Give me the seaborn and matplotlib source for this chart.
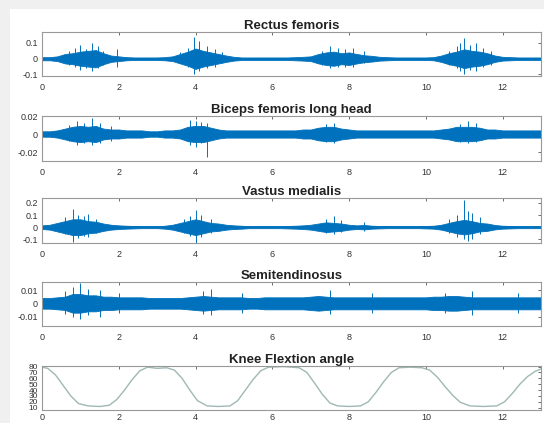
import numpy as np
import pandas as pd
import matplotlib
matplotlib.use("Agg")
import matplotlib.pyplot as plt
from matplotlib.patches import Rectangle
import seaborn as sns

# envelope amplitude of each EMG trace, sampled every 0.2 s from 0 to 13 s
env_t = [round(0.2 * i, 1) for i in range(66)]

rectus = [0.01, 0.01, 0.015, 0.03, 0.035, 0.045, 0.05, 0.055, 0.035, 0.02,
          0.015, 0.01, 0.008, 0.008, 0.008, 0.008, 0.01, 0.015, 0.03, 0.045,
          0.065, 0.05, 0.04, 0.03, 0.02, 0.012, 0.008, 0.008, 0.008, 0.008,
          0.008, 0.008, 0.008, 0.01, 0.012, 0.015, 0.03, 0.04, 0.045, 0.035,
          0.04, 0.03, 0.022, 0.018, 0.012, 0.01, 0.008, 0.008, 0.008, 0.008,
          0.008, 0.01, 0.02, 0.035, 0.045, 0.06, 0.05, 0.045, 0.035, 0.02,
          0.012, 0.01, 0.008, 0.008, 0.008, 0.008]
biceps = [0.003, 0.003, 0.004, 0.006, 0.008, 0.009, 0.008, 0.009, 0.006, 0.005,
          0.005, 0.004, 0.004, 0.004, 0.003, 0.003, 0.004, 0.004, 0.005, 0.008,
          0.009, 0.009, 0.007, 0.005, 0.004, 0.004, 0.004, 0.004, 0.004, 0.004,
          0.004, 0.004, 0.004, 0.004, 0.005, 0.005, 0.007, 0.008, 0.008, 0.006,
          0.005, 0.004, 0.004, 0.004, 0.004, 0.004, 0.004, 0.004, 0.004, 0.004,
          0.004, 0.004, 0.005, 0.006, 0.008, 0.008, 0.008, 0.007, 0.005, 0.005,
          0.004, 0.004, 0.004, 0.004, 0.004, 0.004]
vastus = [0.015, 0.02, 0.035, 0.05, 0.065, 0.065, 0.05, 0.045, 0.03, 0.02,
          0.015, 0.012, 0.01, 0.008, 0.008, 0.008, 0.012, 0.02, 0.035, 0.05,
          0.065, 0.05, 0.035, 0.03, 0.02, 0.015, 0.012, 0.008, 0.008, 0.008,
          0.008, 0.008, 0.01, 0.012, 0.015, 0.02, 0.03, 0.04, 0.035, 0.03,
          0.02, 0.015, 0.018, 0.012, 0.01, 0.008, 0.008, 0.008, 0.008, 0.008,
          0.01, 0.012, 0.02, 0.035, 0.05, 0.06, 0.05, 0.035, 0.03, 0.018,
          0.012, 0.01, 0.008, 0.008, 0.008, 0.008]
semiten = [0.004, 0.004, 0.0045, 0.005, 0.007, 0.007, 0.006, 0.006, 0.005, 0.005,
           0.0045, 0.0045, 0.0045, 0.0045, 0.004, 0.004, 0.004, 0.004, 0.004, 0.0045,
           0.005, 0.0055, 0.005, 0.0045, 0.0045, 0.0045, 0.0045, 0.004, 0.004, 0.0045,
           0.0045, 0.0045, 0.0045, 0.0045, 0.0045, 0.005, 0.0055, 0.005, 0.0045, 0.0045,
           0.0045, 0.0045, 0.0045, 0.0045, 0.0045, 0.0045, 0.0045, 0.0045, 0.0045, 0.0045,
           0.0045, 0.005, 0.005, 0.0055, 0.0055, 0.005, 0.0045, 0.0045, 0.0045, 0.0045,
           0.0045, 0.0045, 0.0045, 0.0045, 0.0045, 0.0045]

# prominent spikes: time, top, bottom
rectus_spk_t = [0.7, 0.85, 1.0, 1.15, 1.3, 1.45, 1.6, 1.95, 3.6, 3.8, 3.95, 4.1,
                4.3, 4.5, 4.7, 7.3, 7.5, 7.7, 7.9, 8.1, 8.4, 10.6, 10.8, 10.9,
                11.0, 11.15, 11.3, 11.5, 11.7]
rectus_spk_hi = [0.05, 0.07, 0.09, 0.06, 0.10, 0.08, 0.05, 0.06, 0.04, 0.07, 0.14, 0.11,
                 0.08, 0.06, 0.04, 0.05, 0.08, 0.07, 0.06, 0.07, 0.05, 0.05, 0.08, 0.10,
                 0.13, 0.09, 0.10, 0.07, 0.05]
rectus_spk_lo = [-0.04, -0.05, -0.07, -0.06, -0.08, -0.06, -0.04, -0.05, -0.03, -0.05,
                 -0.10, -0.08, -0.06, -0.05, -0.03, -0.04, -0.06, -0.05, -0.05, -0.05,
                 -0.03, -0.04, -0.06, -0.08, -0.10, -0.07, -0.08, -0.05, -0.04]
biceps_spk_t = [0.7, 0.9, 1.1, 1.3, 1.5, 1.8, 3.85, 4.0, 4.15, 4.3, 7.4, 7.6,
                10.9, 11.1, 11.3]
biceps_spk_hi = [0.010, 0.014, 0.012, 0.018, 0.012, 0.009, 0.016, 0.014, 0.013, 0.012,
                 0.011, 0.012, 0.011, 0.014, 0.012]
biceps_spk_lo = [-0.008, -0.012, -0.010, -0.012, -0.010, -0.008, -0.012, -0.015, -0.010,
                 -0.026, -0.009, -0.010, -0.009, -0.010, -0.009]
vastus_spk_t = [0.6, 0.8, 0.95, 1.1, 1.2, 1.4, 3.7, 3.85, 4.0, 4.15, 4.4, 7.4, 7.6,
                7.8, 8.4, 10.6, 10.8, 11.0, 11.1, 11.2, 11.4]
vastus_spk_hi = [0.08, 0.15, 0.10, 0.09, 0.11, 0.07, 0.07, 0.09, 0.14, 0.10, 0.07, 0.07,
                 0.09, 0.06, 0.04, 0.07, 0.10, 0.22, 0.13, 0.12, 0.08]
vastus_spk_lo = [-0.06, -0.12, -0.09, -0.07, -0.08, -0.05, -0.05, -0.07, -0.13, -0.08,
                 -0.05, -0.05, -0.06, -0.04, -0.03, -0.05, -0.08, -0.10, -0.11, -0.10,
                 -0.06]
semiten_spk_t = [0.6, 0.8, 1.0, 1.2, 1.5, 2.0, 4.2, 4.4, 5.2, 7.5, 8.6, 10.5, 11.2, 12.4]
semiten_spk_hi = [0.009, 0.012, 0.015, 0.011, 0.010, 0.008, 0.009, 0.011, 0.008, 0.010,
                  0.008, 0.008, 0.009, 0.008]
semiten_spk_lo = [-0.008, -0.010, -0.012, -0.009, -0.010, -0.007, -0.008, -0.009, -0.007,
                  -0.008, -0.007, -0.007, -0.009, -0.007]

# knee flexion angle
knee_t = [0, 0.15, 0.35, 0.55, 0.75, 0.95, 1.2, 1.5, 1.75, 1.95, 2.15, 2.35, 2.55,
          2.75, 3.0, 3.25, 3.45, 3.65, 3.85, 4.05, 4.3, 4.6, 4.9, 5.1, 5.3, 5.5,
          5.7, 5.9, 6.3, 6.7, 6.9, 7.1, 7.3, 7.5, 7.7, 8.0, 8.3, 8.5, 8.7, 8.9,
          9.1, 9.3, 9.6, 9.9, 10.1, 10.3, 10.5, 10.7, 10.9, 11.15, 11.5, 11.85,
          12.05, 12.25, 12.45, 12.65, 12.85, 13.0]
knee_deg = [79, 77, 66, 48, 30, 17, 13, 12, 14, 24, 40, 58, 73,
            79, 77, 78, 74, 60, 40, 22, 13, 12, 13, 22, 40, 58,
            73, 79, 80, 78, 70, 52, 33, 18, 13, 12, 13, 20, 36, 54,
            70, 78, 79, 78, 74, 62, 46, 31, 19, 13, 12, 13,
            20, 34, 50, 63, 72, 76]

titles = ["Rectus femoris", "Biceps femoris long head", "Vastus medialis",
          "Semitendinosus", "Knee Flextion angle"]

BLUE = "#0072BD"
KNEE = "#9fb8b4"

sns.set_style("white")
plt.rcParams["font.family"] = ["Liberation Sans", "DejaVu Sans"]

fig = plt.figure(figsize=(5.44, 4.23), dpi=100)
fig.patch.set_facecolor("#f0f0f0")
fig.patches.append(Rectangle((10 / 544, 0), 1, 1 - 9 / 423, transform=fig.transFigure,
                             facecolor="white", edgecolor="none", zorder=-10))

# axes boxes in pixels (top, bottom)
boxes = [(32, 76), (116, 161), (198, 243), (282, 326), (366, 410)]
ylims = [(-0.11, 0.17), (-0.03, 0.02), (-0.13, 0.24), (-0.017, 0.016), (6, 81)]
yticks = [[-0.1, 0, 0.1], [-0.02, 0, 0.02], [-0.1, 0, 0.1, 0.2],
          [-0.01, 0, 0.01], list(range(10, 81, 10))]
yticklabels = [["-0.1", "0", "0.1"], ["-0.02", "0", "0.02"],
               ["-0.1", "0", "0.1", "0.2"], ["-0.01", "0", "0.01"],
               [str(v) for v in range(10, 81, 10)]]

emg = [(rectus, rectus_spk_t, rectus_spk_hi, rectus_spk_lo),
       (biceps, biceps_spk_t, biceps_spk_hi, biceps_spk_lo),
       (vastus, vastus_spk_t, vastus_spk_hi, vastus_spk_lo),
       (semiten, semiten_spk_t, semiten_spk_hi, semiten_spk_lo)]

for i, (top, bot) in enumerate(boxes):
    ax = fig.add_axes([42 / 544, 1 - bot / 423, 499 / 544, (bot - top) / 423])
    ax.set_facecolor("white")
    if i < 4:
        amp, st, shi, slo = emg[i]
        a = np.array(amp)
        ax.fill_between(env_t, -a, a, color=BLUE, linewidth=0.6, edgecolor=BLUE)
        ax.vlines(st, slo, shi, color=BLUE, linewidth=0.7)
        ax.plot(env_t, np.zeros(len(env_t)), color=BLUE, linewidth=1.2)
    else:
        df = pd.DataFrame({"t": knee_t, "deg": knee_deg})
        sns.lineplot(data=df, x="t", y="deg", ax=ax, color=KNEE, linewidth=1.0)
    ax.set_xlim(0, 13)
    ax.set_ylim(*ylims[i])
    ax.set_xticks(range(0, 13, 2))
    ax.set_yticks(yticks[i])
    ax.set_yticklabels(yticklabels[i])
    ax.set_xlabel("")
    ax.set_ylabel("")
    ax.tick_params(direction="in", length=2.5, width=0.6, labelsize=6.5,
                   colors="#555555", labelcolor="#333333",
                   top=True, right=True, pad=3)
    ax.tick_params(axis="x", pad=5 if i < 4 else 2.5)
    if i == 4:
        ax.tick_params(axis="y", labelsize=6)
    for s in ax.spines.values():
        s.set_color("#999999")
        s.set_linewidth(0.8)
    ax.set_title(titles[i], fontsize=9.5, fontweight="bold", color="#222222", pad=2)

fig.savefig("out.png", dpi=100, facecolor=fig.get_facecolor())
